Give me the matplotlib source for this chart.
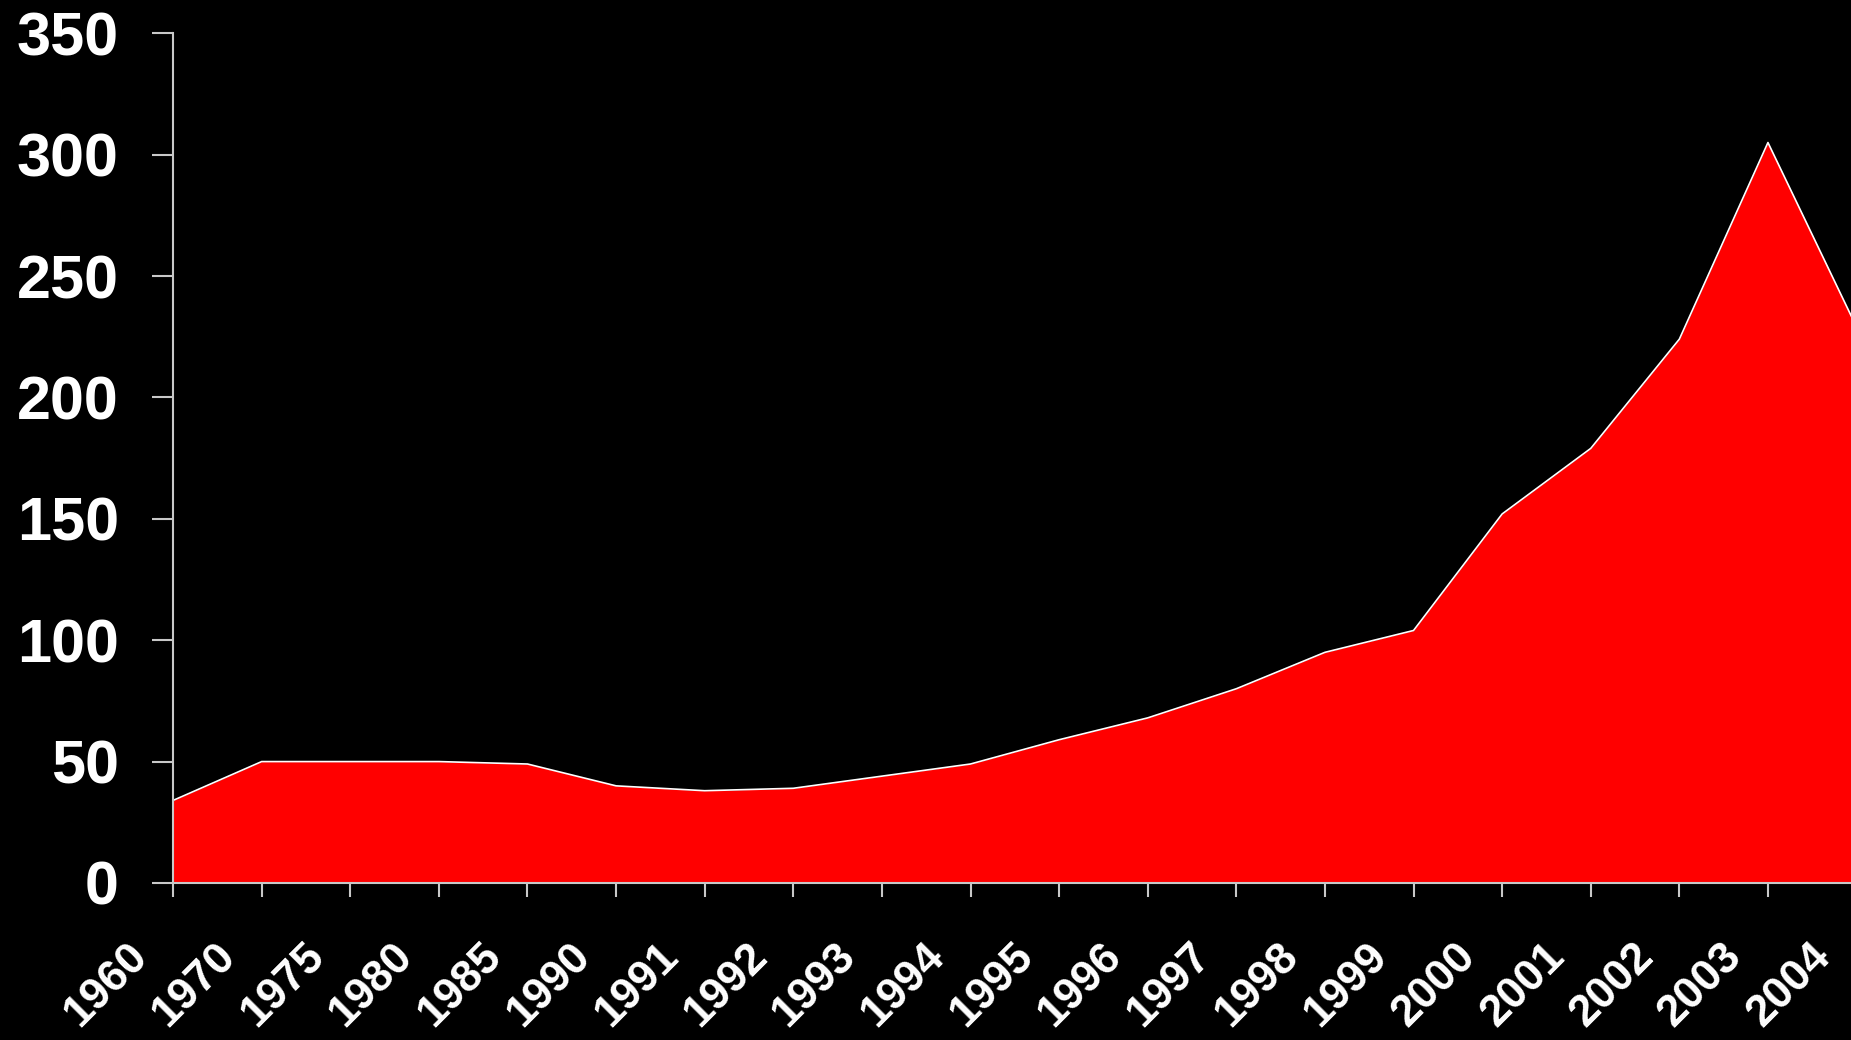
import matplotlib.pyplot as plt
import matplotlib.transforms as mtransforms
import numpy as np

years = ['1960', '1970', '1975', '1980', '1985', '1990', '1991', '1992', '1993', '1994',
         '1995', '1996', '1997', '1998', '1999', '2000', '2001', '2002', '2003', '2004']
values = [34, 50, 50, 50, 49, 40, 38, 39, 44, 49,
          59, 68, 80, 95, 104, 152, 179, 224, 305, 229]
y_ticks = [0, 50, 100, 150, 200, 250, 300, 350]

plt.rcParams['font.family'] = ['Liberation Sans', 'DejaVu Sans']

fig = plt.figure(figsize=(18.51, 10.40), dpi=100, facecolor='black')
ax = fig.add_axes([0.0935, 0.151, 1.003 - 0.0935, 0.968 - 0.151])
ax.set_facecolor('black')

x = np.arange(len(years))
ax.fill_between(x, 0, values, color='#ff0000', linewidth=0)
ax.plot(x, values, color='white', linewidth=1.2)

ax.set_xlim(0, len(years) - 1)
ax.set_ylim(0, 350)

spine_color = '#c8c8c8'
for side in ['top', 'right']:
    ax.spines[side].set_visible(False)
for side in ['left', 'bottom']:
    ax.spines[side].set_color(spine_color)
    ax.spines[side].set_linewidth(1.5)
    ax.spines[side].set_zorder(5)

ax.set_yticks(y_ticks)
ax.set_yticklabels([str(v) for v in y_ticks], fontsize=44, fontweight='bold', color='white')
ax.tick_params(axis='y', colors=spine_color, length=15, width=1.5, pad=24, labelcolor='white')

ax.set_xticks(x)
ax.set_xticklabels(years, rotation=45, ha='right', va='top', fontsize=32,
                   fontweight='bold', color='white')
ax.tick_params(axis='x', colors=spine_color, length=10, width=1.5, pad=28, labelcolor='white')

offset = mtransforms.ScaledTranslation(-18 / 100, 0, fig.dpi_scale_trans)
for lbl in ax.get_xticklabels():
    lbl.set_transform(lbl.get_transform() + offset)

fig.savefig('out.png', dpi=100, facecolor='black')
